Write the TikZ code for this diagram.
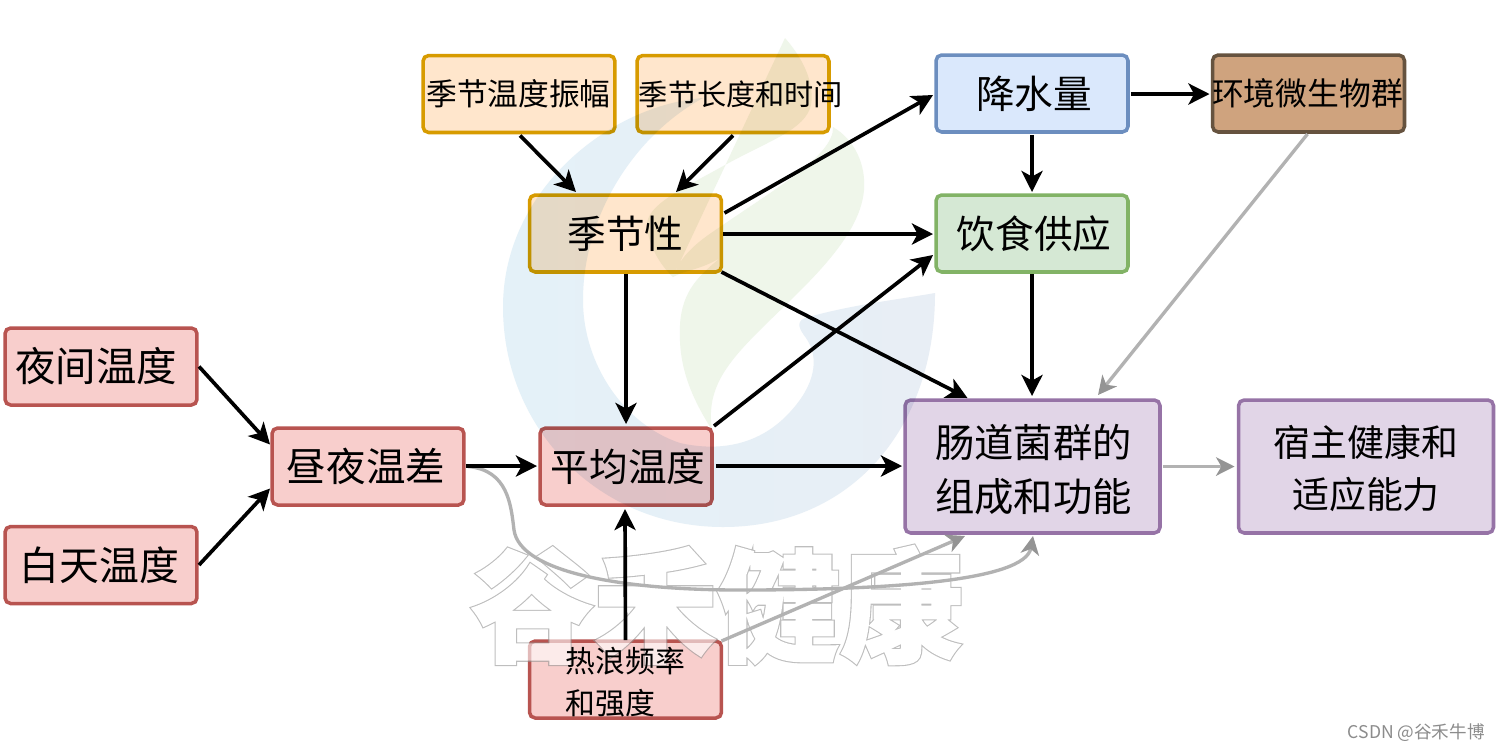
\documentclass[tikz,border=0pt]{standalone}
\usepackage{fontspec}
\setmainfont{Noto Sans CJK SC}
\newfontfamily\wmgray{Noto Sans CJK SC}[BoldFeatures={FakeBold=3.4}]
\newfontfamily\wmwhite{Noto Sans CJK SC}[BoldFeatures={FakeBold=1.6}]
\usetikzlibrary{arrows.meta,calc}
\definecolor{redF}{HTML}{F8CECC}\definecolor{redD}{HTML}{B85450}
\definecolor{orgF}{HTML}{FFE6CC}\definecolor{orgD}{HTML}{D79B00}
\definecolor{bluF}{HTML}{DAE8FC}\definecolor{bluD}{HTML}{6C8EBF}
\definecolor{grnF}{HTML}{D5E8D4}\definecolor{grnD}{HTML}{82B366}
\definecolor{purF}{HTML}{E1D5E7}\definecolor{purD}{HTML}{9673A6}
\definecolor{brnF}{HTML}{CFA37E}\definecolor{brnD}{HTML}{66533F}
\definecolor{logoA}{HTML}{E4F1F8}\definecolor{logoB}{HTML}{E8EEF5}\definecolor{logoC}{HTML}{EFF6EA}
\newlength\pxu \setlength\pxu{0.02cm}
\newcommand\shft[3]{\raisebox{-#2\pxu}[\height][\depth]{\hspace{#1\pxu}#3\hspace{-#1\pxu}}}
\tikzset{
 x=0.02cm,y=-0.02cm,
 boxbase/.style={draw,line width=2pt,rounded corners=3.2pt,inner sep=0pt,outer sep=0pt,align=center,text=black,minimum height=1.54cm,minimum width=3.84cm},
 redbox/.style={boxbase,fill=redF,draw=redD},
 orgbox/.style={boxbase,fill=orgF,draw=orgD},
 blubox/.style={boxbase,fill=bluF,draw=bluD},
 grnbox/.style={boxbase,fill=grnF,draw=grnD},
 brnbox/.style={boxbase,fill=brnF,draw=brnD},
 purbox/.style={boxbase,fill=purF,draw=purD,minimum height=2.66cm,minimum width=5.1cm},
 fsa/.style={font=\fontsize{22}{30.4}\selectfont},
 arr/.style={draw=black,line width=2.1pt,-{Stealth[length=12pt,width=12pt,inset=3.2pt]}},
 garr/.style={draw=black!30,line width=1.9pt,-{Stealth[length=10.5pt,width=10.5pt,inset=3pt,color=black!42]}},
}
\begin{document}
\begin{tikzpicture}
\useasboundingbox (0,0) rectangle (1500,752);
\fill[white] (0,0) rectangle (1500,752);
% boxes
\node[orgbox,font=\fontsize{17.5}{20}\selectfont] (n1) at (519,94) {\shft{-0.5}{0}{季节温度振幅}};
\node[orgbox,font=\fontsize{16.6}{20}\selectfont] (n2) at (733,94) {\makebox[0pt]{\hspace{0.32cm}季节长度和时间}};
\node[orgbox,fsa] (sea) at (625.5,233.5) {季节性};
\node[blubox,fsa] (rain) at (1032,93.5) {\shft{2}{0}{降水量}};
\node[brnbox,font=\fontsize{18.1}{20}\selectfont] (micro) at (1308.5,93.5) {\shft{-1}{0}{环境微生物群}};
\node[grnbox,fsa] (diet) at (1032,233.5) {\shft{2}{0}{饮食供应}};
\node[redbox,font=\fontsize{23}{26}\selectfont] (night) at (101,366.5) {\shft{-5}{0}{夜间温度}};
\node[redbox,font=\fontsize{22.7}{26}\selectfont] (day) at (101,565) {\shft{-1.5}{0}{白天温度}};
\node[redbox,font=\fontsize{22.5}{26}\selectfont] (diff) at (368,466.5) {\shft{-2}{0}{昼夜温差}};
\node[redbox,fsa,minimum width=3.44cm] (mean) at (626,466.5) {\shft{2}{0}{平均温度}};
\node[purbox,font=\fontsize{22.4}{30.8}\selectfont] (gut) at (1032.5,466.5) {\shft{1}{3}{肠道菌群的}\\\shft{1}{3}{组成和功能}};
\node[purbox,font=\fontsize{21}{29.5}\selectfont] (host) at (1366,466.5) {\shft{0}{2}{宿主健康和}\\\shft{0}{2}{适应能力}};
\node[redbox] (heat) at (625.5,679.5) {};
% logo
\begin{scope}[blend mode=multiply]
\shade[left color=logoA,right color=logoB] (703,98) .. controls (610,105) and (503,190) .. (503,307) .. controls (503,430) and (600,527) .. (723,527)
  .. controls (850,527) and (935,430) .. (935,293) .. controls (895,300) and (850,305) .. (805,318)
  .. controls (795,322) and (800,330) .. (806,338) .. controls (820,358) and (815,385) .. (790,412)
  .. controls (760,445) and (720,452) .. (680,443) .. controls (625,425) and (583,365) .. (583,300)
  .. controls (583,215) and (635,135) .. (703,98) -- cycle;
\fill[logoC] (785,38) .. controls (800,55) and (815,80) .. (811,105) .. controls (805,130) and (770,140) .. (725,165)
  .. controls (680,190) and (647,205) .. (647,225) .. controls (648,245) and (660,265) .. (673,277)
  .. controls (680,255) and (700,240) .. (720,227) .. controls (770,192) and (835,155) .. (833,127)
  .. controls (855,140) and (866,165) .. (864,190) .. controls (860,240) and (800,290) .. (760,330)
  .. controls (725,365) and (706,390) .. (712,430) .. controls (690,395) and (678,365) .. (680,325)
  .. controls (682,290) and (700,275) .. (720,258) .. controls (700,270) and (685,270) .. (673,277) -- cycle;
\end{scope}
% watermark
\begin{scope}[transparency group,opacity=0.6]
\node[inner sep=0pt,text=black!42,font=\wmgray\bfseries\fontsize{70}{70}\selectfont] (wma) at (717,605) {谷禾健康};
\node[inner sep=0pt,text=white,font=\wmwhite\bfseries\fontsize{70}{70}\selectfont] (wmb) at (717,605) {谷禾健康};
\end{scope}
\node[inner sep=0pt,text=black,font=\fontsize{17}{23.8}\selectfont,text width=2.4cm,align=left] (heattxt) at (625.5,682) {热浪频率\\和强度};
% grey connectors
\draw[garr] ($(micro.south)+(-1,2)$) -- ($(gut.north)+(65.5,-5)$);
\draw[garr] ($(gut.east)+(3,0)$) -- ($(host.west)+(-4,0)$);
\draw[garr] ($(heat.north east)+(0,0)$) -- ($(gut.south)+(-67.5,3)$);
\draw[garr] ($(diff.east)+(4,0)$) .. controls (508,470) and (511,505) .. (514,530) .. controls (520,572) and (620,590) .. (740,590) .. controls (880,590) and (1025,582) .. ($(gut.south)+(0.5,3)$);
% black connectors
\draw[arr] ($(n1.south)+(1,3)$) -- ($(sea.north)+(-49.5,-3)$);
\draw[arr] ($(n2.south)+(0,3)$) -- ($(sea.north)+(50.5,-3)$);
\draw[arr] ($(sea.east)+(3,-20.5)$) -- ($(rain.west)+(-3,1.5)$);
\draw[arr] ($(sea.east)+(2,0.5)$) -- ($(diet.west)+(-3,0.5)$);
\draw[arr] ($(sea.south)+(0.5,2)$) -- ($(mean.north)+(0,-4)$);
\draw[arr] ($(sea.south east)+(0,0)$) -- ($(gut.north)+(-65,-2)$);
\draw[arr] ($(mean.north east)+(2,-2)$) -- ($(diet.west)+(-3,21.5)$);
\draw[arr] ($(mean.east)+(4,-0.5)$) -- ($(gut.west)+(-3,-0.5)$);
\draw[arr] ($(diff.east)+(2,-0.5)$) -- ($(mean.west)+(-3,-0.5)$);
\draw[arr] ($(night.east)+(2,0)$) -- ($(diff.west)+(-2,-22)$);
\draw[arr] ($(day.east)+(2,0)$) -- ($(diff.west)+(-2,22)$);
\draw[arr] ($(heat.north)+(0,-1)$) -- ($(mean.south)+(-1,4)$);
\draw[arr] ($(rain.east)+(3,0.5)$) -- ($(micro.west)+(-3,0.5)$);
\draw[arr] ($(rain.south)+(0,3)$) -- ($(diet.north)+(0,-3)$);
\draw[arr] ($(diet.south)+(0,2)$) -- ($(gut.north)+(-0.5,-4)$);
\node[inner sep=0pt,text=black!45,font=\fontsize{10}{11}\selectfont,anchor=east] (csdn) at (1485,733) {CSDN @谷禾牛博};
\end{tikzpicture}
\end{document}
